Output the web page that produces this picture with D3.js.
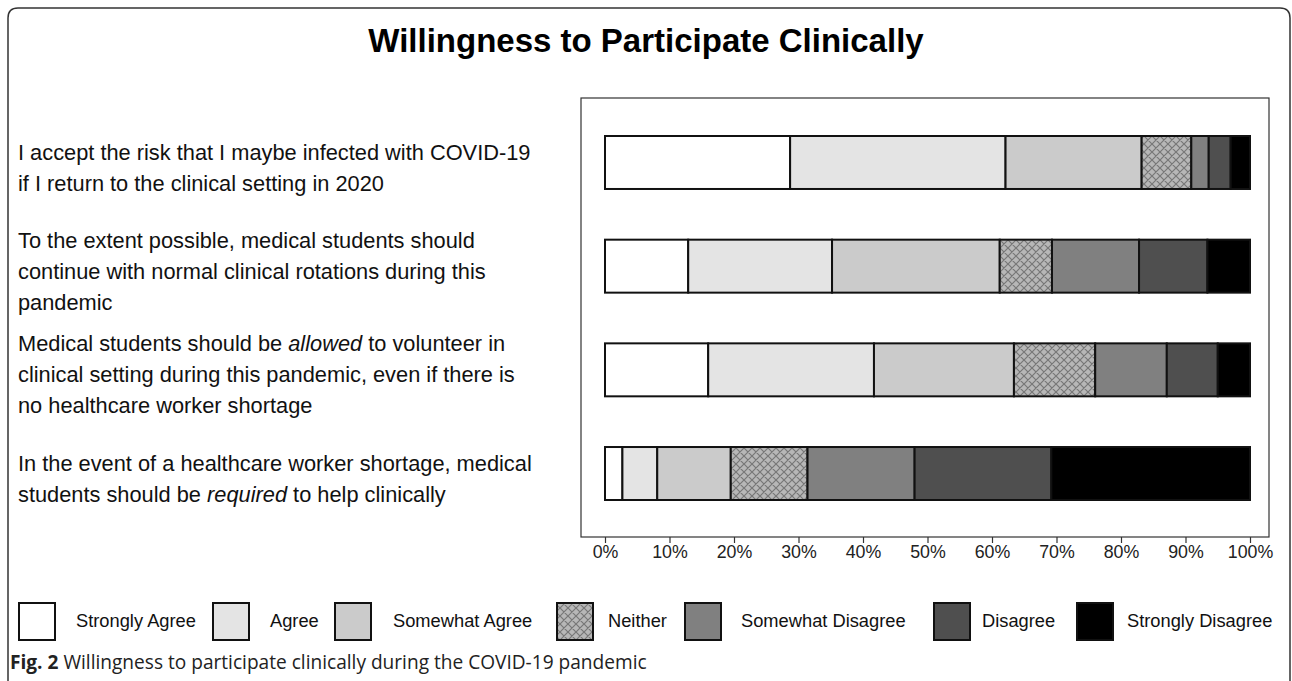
<!DOCTYPE html>
<html>
<head>
<meta charset="utf-8">
<script src="https://cdn.jsdelivr.net/npm/d3@7"></script>
<style>
  html, body { margin: 0; padding: 0; background: #fff; }
  svg { display: block; }
</style>
</head>
<body>
<svg id="chart" width="1292" height="681"></svg>
<script>
// ---------- DATA ----------
const title = "Willingness to Participate Clinically";
const categories = ["Q1", "Q2", "Q3", "Q4"];
const categoryLabels = [
  [[["I accept the risk that I maybe infected with COVID-19", false]],
   [["if I return to the clinical setting in 2020", false]]],
  [[["To the extent possible, medical students should", false]],
   [["continue with normal clinical rotations during this", false]],
   [["pandemic", false]]],
  [[["Medical students should be ", false], ["allowed", true], [" to volunteer in", false]],
   [["clinical setting during this pandemic, even if there is", false]],
   [["no healthcare worker shortage", false]]],
  [[["In the event of a healthcare worker shortage, medical", false]],
   [["students should be ", false], ["required", true], [" to help clinically", false]]]
];
const responses = ["Strongly Agree", "Agree", "Somewhat Agree", "Neither",
                   "Somewhat Disagree", "Disagree", "Strongly Disagree"];
const stronglyAgree    = [28.7, 12.9, 16.0,  2.7];
const agree            = [33.4, 22.3, 25.7,  5.4];
const somewhatAgree    = [21.1, 26.0, 21.7, 11.4];
const neither          = [ 7.7,  8.1, 12.6, 11.9];
const somewhatDisagree = [ 2.7, 13.5, 11.1, 16.6];
const disagree         = [ 3.4, 10.6,  7.9, 21.2];
const stronglyDisagree = [ 3.0,  6.6,  5.0, 30.8];
const tickValues = [0, 10, 20, 30, 40, 50, 60, 70, 80, 90, 100];
const caption = ["Fig. 2", " Willingness to participate clinically during the COVID-19 pandemic"];

// ---------- BUILD TABLE ----------
const seriesValues = [stronglyAgree, agree, somewhatAgree, neither,
                      somewhatDisagree, disagree, stronglyDisagree];
const table = categories.map((c, i) => {
  const row = { category: c };
  responses.forEach((r, j) => row[r] = seriesValues[j][i]);
  return row;
});
const stacked = d3.stack().keys(responses)(table);

// ---------- STYLE ----------
const fills = {
  "Strongly Agree": "#ffffff",
  "Agree": "#e4e4e4",
  "Somewhat Agree": "#cbcbcb",
  "Neither": "url(#hatch)",
  "Somewhat Disagree": "#808080",
  "Disagree": "#4f4f4f",
  "Strongly Disagree": "#000000"
};
const font = "'Liberation Sans', Arial, sans-serif";

const svg = d3.select("#chart");
const defs = svg.append("defs");
const pat = defs.append("pattern")
  .attr("id", "hatch").attr("patternUnits", "userSpaceOnUse")
  .attr("width", 8).attr("height", 8);
pat.append("rect").attr("width", 8).attr("height", 8).attr("fill", "#b7b7b7");
pat.append("path").attr("d", "M0,0 L8,8 M8,0 L0,8 M-2,6 L2,10 M6,-2 L10,2 M-2,2 L2,-2 M6,10 L10,6")
  .attr("stroke", "#777").attr("stroke-width", 1.2).attr("fill", "none");

// Outer frame (rounded)
svg.append("path")
  .attr("d", "M8,690 L8,18 Q8,8 18,8 L1280,8 Q1290,8 1290,18 L1290,690")
  .attr("fill", "none").attr("stroke", "#333").attr("stroke-width", 1.5);

// Title
svg.append("text")
  .attr("x", 646).attr("y", 52)
  .attr("text-anchor", "middle")
  .attr("font-family", font).attr("font-weight", "bold")
  .attr("font-size", 33).attr("fill", "#000")
  .text(title);

// Scales
const x = d3.scaleLinear().domain([0, 100]).range([605, 1250]);
const y = d3.scaleBand().domain(categories).range([136, 500]).paddingInner(0.489).paddingOuter(0);

// Plot frame
const plotTop = 98, plotBottom = 537;
svg.append("rect")
  .attr("x", 581).attr("y", plotTop).attr("width", 688).attr("height", plotBottom - plotTop)
  .attr("fill", "none").attr("stroke", "#333").attr("stroke-width", 1.2);

// Bars
const g = svg.append("g");
g.selectAll("g.series").data(stacked).join("g")
  .attr("class", "series")
  .attr("fill", d => fills[d.key])
  .selectAll("rect").data(d => d).join("rect")
  .attr("x", d => x(d[0]))
  .attr("y", d => y(d.data.category))
  .attr("width", d => x(d[1]) - x(d[0]))
  .attr("height", y.bandwidth())
  .attr("stroke", "#111").attr("stroke-width", 2);

// Axis
const axis = svg.append("g")
  .attr("transform", `translate(0,${plotBottom})`)
  .call(d3.axisBottom(x).tickValues(tickValues).tickFormat(d => d + "%").tickSize(6).tickPadding(2));
axis.select(".domain").remove();
axis.selectAll("line").attr("stroke", "#333").attr("stroke-width", 1.2);
axis.selectAll("text").attr("font-family", font).attr("font-size", 17.8).attr("fill", "#222");

// Category labels
const lineH = 31;
categoryLabels.forEach((lines, i) => {
  const cy = y(categories[i]) + y.bandwidth() / 2 + 5;
  lines.forEach((segs, k) => {
    const ly = cy + (k - (lines.length - 1) / 2) * lineH;
    const t = svg.append("text")
      .attr("x", 18).attr("y", ly).attr("dy", "0.35em")
      .attr("font-family", font).attr("font-size", 21.8).attr("fill", "#111");
    segs.forEach(s => {
      t.append("tspan").attr("font-style", s[1] ? "italic" : "normal").text(s[0]);
    });
  });
});

// Legend
const legendBoxX = [19, 213, 335, 557, 685, 934, 1077];
const legendTextX = [76, 270, 393, 608, 741, 982, 1127];
const lg = svg.append("g");
responses.forEach((r, i) => {
  lg.append("rect")
    .attr("x", legendBoxX[i]).attr("y", 603).attr("width", 36).attr("height", 37)
    .attr("fill", fills[r]).attr("stroke", "#111").attr("stroke-width", 2);
  lg.append("text")
    .attr("x", legendTextX[i]).attr("y", 621).attr("dy", "0.35em")
    .attr("font-family", font).attr("font-size", 18.3).attr("fill", "#111")
    .text(r);
});

// Caption
const cap = svg.append("text")
  .attr("x", 10).attr("y", 669)
  .attr("font-family", "'Open Sans', 'Noto Sans', sans-serif")
  .attr("font-size", 19.1).attr("fill", "#222");
cap.append("tspan").attr("font-weight", "bold").text(caption[0]);
cap.append("tspan").text(caption[1]);
</script>
</body>
</html>
